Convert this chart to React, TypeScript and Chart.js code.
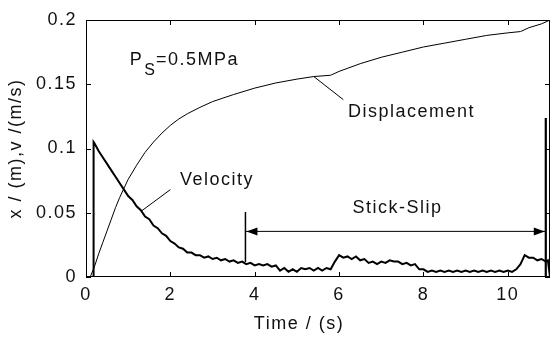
import React, { useEffect, useRef } from "react";
import { Chart, registerables } from "chart.js";
Chart.register(...registerables);

const timeDisp = [0, 0.1, 0.2, 0.3, 0.4, 0.5, 0.6, 0.7, 0.8, 0.9, 1.0, 1.2, 1.4, 1.6, 1.8, 2.0, 2.2, 2.4, 2.7, 3.0, 3.5, 4.0, 4.5, 5.0, 5.4, 5.8, 6.0, 6.5, 7.0, 7.5, 8.0, 8.5, 9.0, 9.5, 10.0, 10.3, 10.5, 10.8, 11.0];
const displacement = [0, 0, 0.008, 0.018, 0.027, 0.036, 0.045, 0.054, 0.062, 0.069, 0.076, 0.087, 0.097, 0.105, 0.112, 0.118, 0.123, 0.127, 0.132, 0.1365, 0.142, 0.147, 0.151, 0.154, 0.156, 0.157, 0.16, 0.166, 0.171, 0.175, 0.179, 0.182, 0.185, 0.188, 0.19, 0.191, 0.194, 0.197, 0.2];

const timeVel = [0, 0.17, 0.18, 0.2, 0.3, 0.4, 0.5, 0.6, 0.7, 0.8, 0.9,
  1.0, 1.1, 1.2, 1.3, 1.4, 1.5, 1.6, 1.7, 1.8, 1.9,
  2.0, 2.1, 2.2, 2.3, 2.4, 2.5, 2.6, 2.7, 2.8, 2.9,
  3.0, 3.1, 3.2, 3.3, 3.4, 3.5, 3.6, 3.7, 3.8, 3.9,
  4.0, 4.1, 4.2, 4.3, 4.4, 4.5, 4.6, 4.7, 4.8, 4.9,
  5.0, 5.1, 5.2, 5.3, 5.4, 5.5, 5.6, 5.7, 5.8, 5.9,
  6.0, 6.1, 6.2, 6.3, 6.4, 6.5, 6.6, 6.7, 6.8, 6.9,
  7.0, 7.1, 7.2, 7.3, 7.4, 7.5, 7.6, 7.7, 7.8, 7.9,
  8.0, 8.1, 8.2, 8.3, 8.4, 8.5, 8.6, 8.7, 8.8, 8.9,
  9.0, 9.1, 9.2, 9.3, 9.4, 9.5, 9.6, 9.7, 9.8, 9.9,
  10.0, 10.1, 10.2, 10.3, 10.4, 10.5, 10.6, 10.7, 10.8, 10.9, 10.95, 11.0];
const velocity = [0, 0, 0.105, 0.104, 0.098, 0.093, 0.088, 0.083, 0.078, 0.073, 0.068,
  0.063, 0.06, 0.055, 0.052, 0.047, 0.045, 0.04, 0.038, 0.034, 0.032,
  0.028, 0.026, 0.023, 0.022, 0.019, 0.019, 0.017, 0.017, 0.015, 0.016,
  0.014, 0.015, 0.013, 0.014, 0.012, 0.013, 0.011, 0.012, 0.01, 0.011,
  0.009, 0.01, 0.009, 0.01, 0.008, 0.009, 0.005, 0.007, 0.004, 0.006,
  0.004, 0.007, 0.006, 0.007, 0.005, 0.007, 0.005, 0.007, 0.006, 0.012,
  0.017, 0.015, 0.016, 0.014, 0.016, 0.013, 0.014, 0.011, 0.012, 0.01,
  0.012, 0.011, 0.013, 0.012, 0.012, 0.01, 0.011, 0.009, 0.01, 0.006,
  0.006, 0.004, 0.005, 0.004, 0.005, 0.004, 0.005, 0.004, 0.005, 0.004,
  0.005, 0.004, 0.005, 0.004, 0.005, 0.004, 0.005, 0.004, 0.005, 0.004,
  0.005, 0.004, 0.006, 0.01, 0.017, 0.015, 0.015, 0.013, 0.014, 0.012, 0.013, 0];

const xTicks = [0, 2, 4, 6, 8, 10];
const yTicks = [0, 0.05, 0.1, 0.15, 0.2];
const yTickLabels = ["0", "0.05", "0.1", "0.15", "0.2"];

const stickStart = 3.78;
const stickEnd = 10.9;
const stickArrowY = 0.0355;
const stickLeftTop = 0.0505;
const stickLeftBottom = 0.0117;
const stickRightTop = 0.1237;

const FONT = '"Liberation Sans", Arial, sans-serif';

function pts(xs: number[], ys: number[]) {
  return xs.map((x, i) => ({ x, y: ys[i] }));
}

const overlay = {
  id: "overlay",
  beforeDraw(chart: any) {
    chart.ctx.letterSpacing = "1.5px";
  },
  afterDatasetsDraw(chart: any) {
    const { ctx, chartArea: a, scales } = chart;
    const x = scales.x, y = scales.y;
    ctx.save();
    ctx.strokeStyle = "#000";
    ctx.fillStyle = "#000";
    ctx.lineWidth = 1;
    ctx.beginPath();
    ctx.rect(a.left + 0.5, a.top + 0.5, a.right - a.left - 1, a.bottom - a.top - 1);
    for (const v of xTicks) {
      const px = Math.round(x.getPixelForValue(v)) + 0.5;
      ctx.moveTo(px, a.bottom); ctx.lineTo(px, a.bottom - 5);
      ctx.moveTo(px, a.top); ctx.lineTo(px, a.top + 5);
    }
    for (const v of yTicks) {
      const py = Math.round(y.getPixelForValue(v)) + 0.5;
      ctx.moveTo(a.left, py); ctx.lineTo(a.left + 5, py);
      ctx.moveTo(a.right, py); ctx.lineTo(a.right - 5, py);
    }
    ctx.stroke();

    // arrowheads
    const ay = y.getPixelForValue(stickArrowY);
    const lx = x.getPixelForValue(stickStart);
    const rx = x.getPixelForValue(stickEnd);
    ctx.beginPath();
    ctx.moveTo(lx + 1, ay); ctx.lineTo(lx + 12, ay - 4); ctx.lineTo(lx + 12, ay + 4); ctx.closePath();
    ctx.moveTo(rx - 1, ay); ctx.lineTo(rx - 12, ay - 4); ctx.lineTo(rx - 12, ay + 4); ctx.closePath();
    ctx.fill();

    // texts
    ctx.fillStyle = "#111";
    ctx.letterSpacing = "1.5px";
    ctx.textBaseline = "alphabetic";
    ctx.textAlign = "left";
    ctx.font = `18px ${FONT}`;
    ctx.fillText("Displacement", x.getPixelForValue(6.21), y.getPixelForValue(0.1245));
    ctx.fillText("Velocity", x.getPixelForValue(2.23), y.getPixelForValue(0.0716));
    ctx.textAlign = "center";
    ctx.fillText("Stick-Slip", x.getPixelForValue(7.385), y.getPixelForValue(0.0498));

    // P_S = 0.5MPa
    ctx.textAlign = "left";
    let px = x.getPixelForValue(1.04);
    const pb = y.getPixelForValue(0.165);
    ctx.fillText("P", px, pb);
    px += ctx.measureText("P").width;
    ctx.font = `16px ${FONT}`;
    ctx.letterSpacing = "0px";
    ctx.fillText("S", px + 1, pb + 10);
    px += ctx.measureText("S").width + 2;
    ctx.font = `18px ${FONT}`;
    ctx.letterSpacing = "1.5px";
    ctx.fillText("=0.5MPa", px, pb);

    // axis titles
    ctx.textAlign = "center";
    ctx.textBaseline = "alphabetic";
    ctx.fillText("Time / (s)", a.left + 213, a.bottom + 52);
    ctx.save();
    ctx.translate(16, (a.top + a.bottom) / 2);
    ctx.rotate(-Math.PI / 2);
    ctx.textBaseline = "middle";
    ctx.fillText("x / (m),v /(m/s)", 0, 0);
    ctx.restore();

    ctx.restore();
  },
};

export default function App() {
  const ref = useRef<HTMLCanvasElement | null>(null);
  useEffect(() => {
    if (!ref.current) return;
    const line = (data: any[], w: number) => ({
      data,
      borderColor: "#000",
      borderWidth: w,
      pointRadius: 0,
      tension: 0,
      fill: false,
    });
    const chart = new Chart(ref.current, {
      type: "line",
      data: {
        datasets: [
          { label: "Displacement", ...line(pts(timeDisp, displacement), 1) },
          { label: "Velocity", ...line(pts(timeVel, velocity), 2) },
          { label: "stick-left", ...line([{ x: stickStart, y: stickLeftTop }, { x: stickStart, y: stickLeftBottom }], 1.5) },
          { label: "stick-right", ...line([{ x: stickEnd, y: stickRightTop }, { x: stickEnd, y: 0 }], 2.2) },
          { label: "stick-arrow", ...line([{ x: stickStart, y: stickArrowY }, { x: stickEnd, y: stickArrowY }], 1) },
          { label: "disp-leader", ...line([{ x: 5.4, y: 0.156 }, { x: 6.1, y: 0.138 }], 1) },
          { label: "vel-leader", ...line([{ x: 1.3, y: 0.051 }, { x: 2.0, y: 0.068 }], 1) },
        ],
      },
      options: {
        responsive: false,
        animation: false,
        layout: { padding: { left: 0, right: 3, top: 20, bottom: 0 } },
        plugins: { legend: { display: false }, tooltip: { enabled: false } },
        scales: {
          x: {
            type: "linear",
            min: 0,
            max: 11,
            grid: { display: false, drawTicks: false },
            border: { display: false },
            afterBuildTicks: (s: any) => { s.ticks = xTicks.map((v) => ({ value: v })); },
            afterFit: (s: any) => { s.height = 61; },
            ticks: {
              padding: 7,
              color: "#111",
              font: { family: FONT, size: 18 },
              maxRotation: 0,
              callback: (v: any) => String(v),
            },
          },
          y: {
            type: "linear",
            min: 0,
            max: 0.2,
            grid: { display: false, drawTicks: false },
            border: { display: false },
            afterBuildTicks: (s: any) => { s.ticks = yTicks.map((v) => ({ value: v })); },
            afterFit: (s: any) => { s.width = 86; },
            ticks: {
              padding: 9,
              color: "#111",
              font: { family: FONT, size: 18 },
              callback: (v: any) => {
                const i = yTicks.findIndex((t) => Math.abs(t - v) < 1e-9);
                return i >= 0 ? yTickLabels[i] : "";
              },
            },
          },
        },
      },
      plugins: [overlay],
    } as any);
    return () => chart.destroy();
  }, []);
  return (
    <div style={{ position: "absolute", left: 0, top: 0, width: 553, height: 338, background: "#fff" }}>
      <canvas ref={ref} width={553} height={338} style={{ display: "block", width: 553, height: 338 }} />
    </div>
  );
}
